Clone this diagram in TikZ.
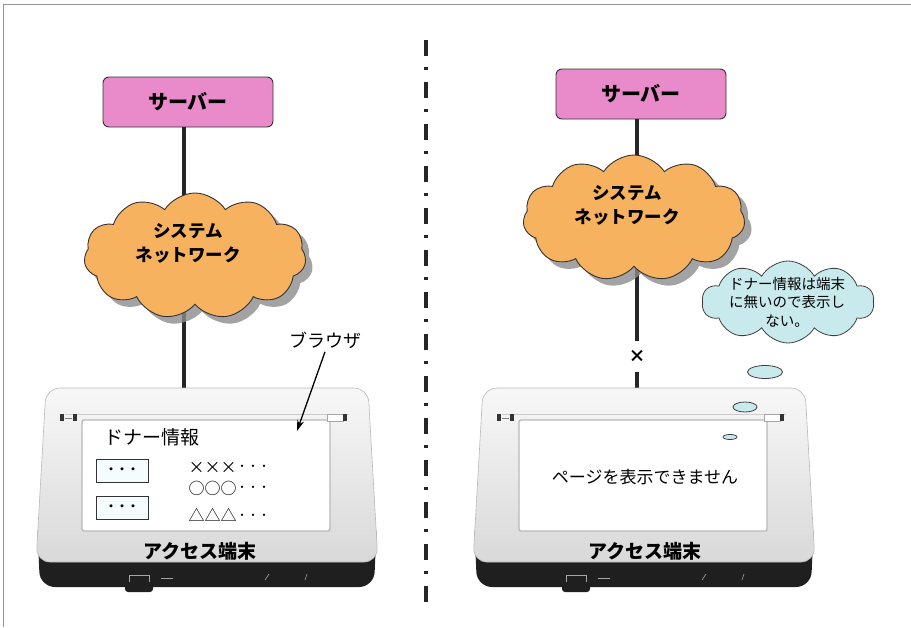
\documentclass[tikz,border=0pt]{standalone}
\usepackage{fontspec}
\setmainfont{Noto Sans CJK JP}
\usetikzlibrary{shapes.symbols,shapes.geometric,shadows,arrows.meta}

\definecolor{serverpink}{RGB}{233,139,203}
\definecolor{netorange}{RGB}{246,178,94}
\definecolor{bubbleblue}{RGB}{200,234,236}
\definecolor{framegray}{RGB}{150,150,150}

\newcommand{\trail}{\raisebox{0.3ex}{\fontsize{11}{12}\selectfont ・・・}}

\tikzset{
  server/.style={draw=black!80, fill=serverpink, rounded corners=6pt, line width=0.9pt,
    minimum width=170pt, minimum height=50pt, font=\fontsize{20}{24}\selectfont\bfseries},
  net/.style={cloud, cloud puffs=11, cloud puff arc=115, cloud ignores aspect,
    draw=black!80, fill=netorange, line width=0.9pt, minimum width=222pt, minimum height=126pt,
    drop shadow={shadow xshift=7pt, shadow yshift=-7pt, fill=black!45, opacity=0.8}},
  nettext/.style={align=center, font=\fontsize{17.5}{24}\selectfont\bfseries},
  link/.style={line width=4pt, black!85},
  pointer/.style={-{Stealth[length=11pt,width=7pt]}, line width=1.3pt},
  field/.style={draw=black!80, fill=cyan!4, line width=0.8pt, minimum width=52pt,
    minimum height=23pt, inner sep=0pt, font=\fontsize{11}{12}\selectfont\bfseries},
  item/.style={font=\fontsize{16}{18}\selectfont, inner sep=0pt},
  termtext/.style={font=\fontsize{19}{22}\selectfont\bfseries},
  bubble/.style={cloud, cloud puffs=10, cloud puff arc=120, cloud ignores aspect,
    draw=black!75, fill=bubbleblue, line width=0.8pt},
  puff/.style={ellipse, draw=black!75, fill=bubbleblue, line width=0.8pt, inner sep=0pt},
  % the access terminal, drawn from the middle of its top edge
  pics/terminal/.style={code={
    % black foot
    \fill[black!88, rounded corners=15pt] (-170,130) -- (170,130) -- (167,199) -- (-167,199) -- cycle;
    \fill[black!88, rounded corners=3pt] (-82,188) rectangle (-54,204);
    \draw[gray!70, line width=0.6pt] (-78,194) -- (-78,187) -- (-58,187) -- (-58,194);
    \draw[gray!70, line width=0.6pt] (-46,190) -- (-34,190);
    \draw[gray!70, line width=0.6pt] (58,192) -- (62,186) (98,192) -- (100,186);
    % shell
    \path[draw=gray!55, line width=0.6pt, top color=gray!6, bottom color=gray!30, rounded corners=14pt]
      (-161,0) -- (161,0) -- (171,174) -- (-171,174) -- cycle;
    \draw[gray!40, line width=0.6pt] (-142,26) -- (142,26);
    % screen
    \path[fill=white, draw=gray!55, line width=1.4pt, rounded corners=2pt] (-125,32) rectangle (123,143);
    % lamps
    \fill[black!80] (-147,26) rectangle (-143,33);
    \fill[black!80] (-134,26) rectangle (-130,33);
    \draw[gray, line width=0.6pt] (-142,30) -- (-135,30);
    \draw[gray!70, fill=white, line width=0.5pt] (120,26) rectangle (136,33);
    \fill[black!80] (136,26) rectangle (140,33);
  }}
}

\begin{document}
\begin{tikzpicture}[x=1pt, y=-1pt]
\useasboundingbox (0,0) rectangle (911,627);

% frame and divider
\draw[framegray, line width=1pt] (911,4) -- (3,4) -- (3,627);
\draw[black!85, line width=3.5pt, dash pattern=on 16pt off 11pt on 3pt off 12pt] (426,40) -- (426,602);

% left: connected
\coordinate (termL) at (184,388);
\node[server] (srvL) at (188,102) {サーバー};
\draw[link] (termL |- srvL.south) -- (termL);
\node[net] (netL) at (195,256) {};
\node[nettext] (nettextL) at (188,243) {システム\\ネットワーク};
\pic at (207,388) {terminal};

\node[font=\fontsize{19}{22}\selectfont] (donor) at (152,437) {ドナー情報};
\node[field] (fieldA) at (122,471) {・・・};
\node[field] (fieldB) at (122,508) {・・・};
\node[item] (itemA) at (229,468) {×××\trail};
\node[item] (itemB) at (229,488) {○○○\trail};
\node[item] (itemC) at (229,515) {△△△\trail};
\node[termtext] (termtextL) at (200,551) {アクセス端末};

\node[font=\fontsize{18}{22}\selectfont] (browser) at (325,340) {ブラウザ};
\coordinate (screenL) at (297,431);
\draw[pointer] (browser.south) -- (screenL);

% right: not connected
\coordinate (termR) at (637,388);
\coordinate (cutR) at (637,341);
\coordinate (stubR) at (637,372);
\node[server] (srvR) at (641,94) {サーバー};
\draw[link] (termR |- srvR.south) -- (cutR);
\draw[link] (stubR) -- (termR);
\node[net] (netR) at (634,218) {};
\node[nettext] (nettextR) at (627,205) {システム\\ネットワーク};
\node[font=\fontsize{17}{18}\selectfont\bfseries] (cross) at (637,356) {×};
\pic at (644,388) {terminal};

\node[font=\fontsize{17}{20}\selectfont] (pagemsg) at (645,477) {ページを表示できません};
\node[termtext] (termtextR) at (645,551) {アクセス端末};

% thought bubble
\node[puff, minimum width=14pt, minimum height=5pt] (puffC) at (730,437) {};
\node[puff, minimum width=24pt, minimum height=10pt] (puffB) at (745,407) {};
\node[puff, minimum width=35pt, minimum height=13pt] (puffA) at (765,372) {};
\node[bubble, minimum width=172pt, minimum height=82pt] (thought) at (788,302) {};
\node[align=center, font=\fontsize{14.5}{18.5}\selectfont] (thoughttext) at (787,302)
  {ドナー情報は端末\\に無いので表示し\\ない。};
\end{tikzpicture}
\end{document}
